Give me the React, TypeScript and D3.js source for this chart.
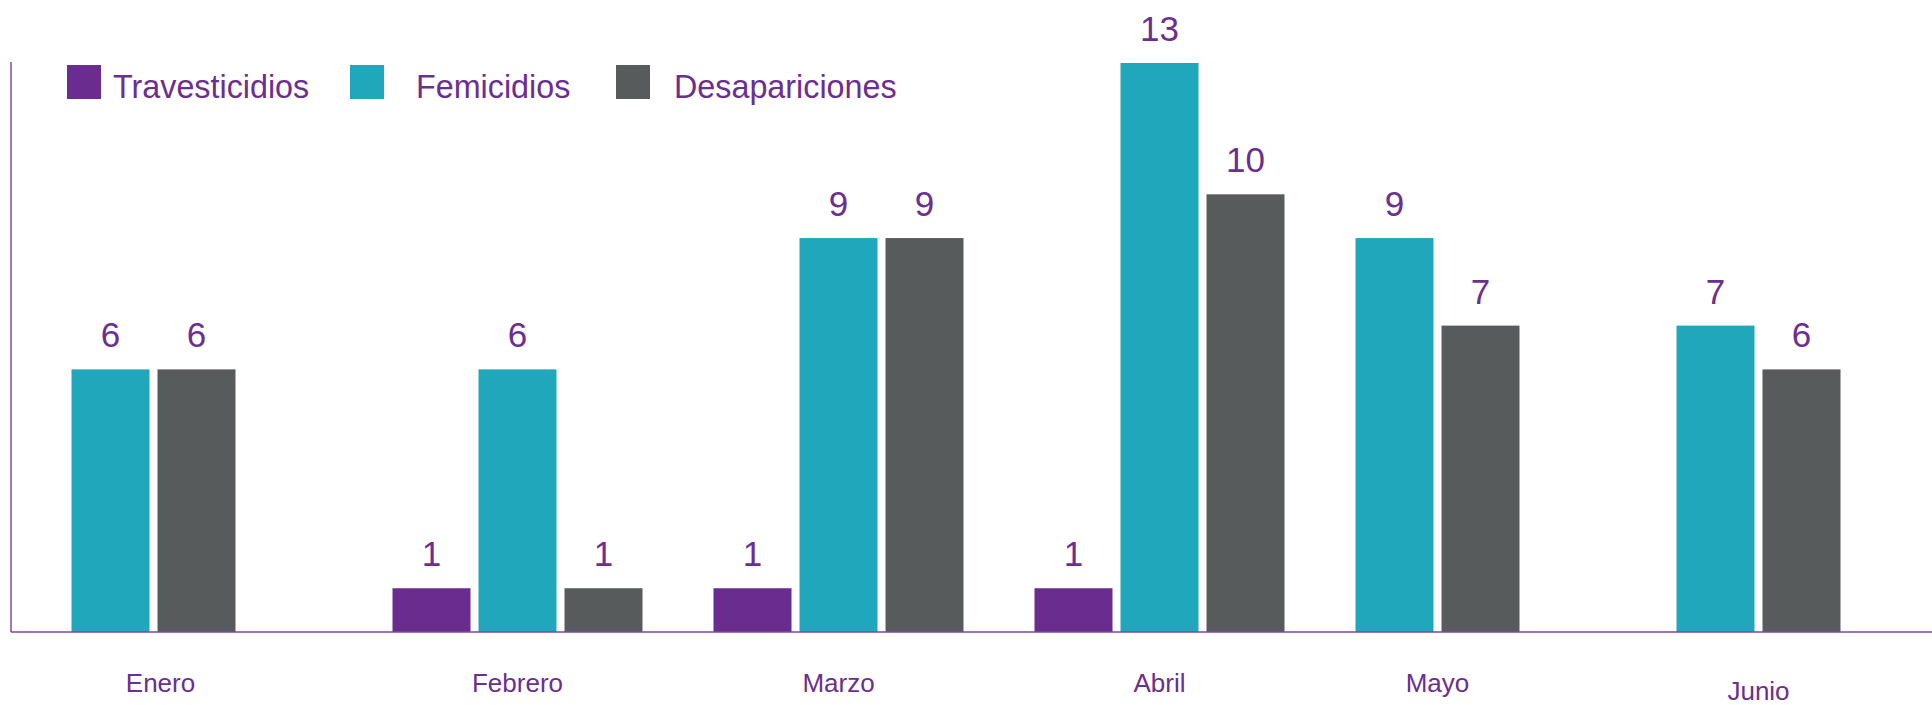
import React, { useEffect, useRef } from "react";
import * as d3 from "d3";

const months = ["Enero", "Febrero", "Marzo", "Abril", "Mayo", "Junio"];
const seriesNames = ["Travesticidios", "Femicidios", "Desapariciones"];
const travesticidios = [0, 1, 1, 1, 0, 0];
const femicidios = [6, 6, 9, 13, 9, 7];
const desapariciones = [6, 1, 9, 10, 7, 6];

const colors = ["#6a2d8f", "#20a7bb", "#575b5c"];
const textColor = "#6b2e91";
const font = "'Liberation Sans', Arial, sans-serif";

const App = () => {
  const svgRef = useRef<SVGSVGElement>(null);

  useEffect(() => {
    const svg = d3.select(svgRef.current);
    svg.selectAll("*").remove();

    const width = 1932;
    const baseY = 632;
    const axisX = 11;

    const values = [travesticidios, femicidios, desapariciones];

    // month bands, each holding three slots
    const x = d3.scaleBand<string>()
      .domain(months)
      .range([36, 36 + 6 * 321])
      .paddingInner(71 / 321)
      .paddingOuter(35.5 / 321);

    const slot = d3.scaleBand<string>()
      .domain(["0", "1", "2"])
      .range([0, x.bandwidth()])
      .paddingInner(8 / 86);

    const y = d3.scaleLinear().domain([0, 13]).range([baseY, 63]);

    // non-zero bars are packed to the left of their month
    const bars: { month: string; s: number; k: number; v: number }[] = [];
    const counts: number[] = [];
    months.forEach((m, i) => {
      let k = 0;
      values.forEach((vals, s) => {
        if (vals[i] > 0) {
          bars.push({ month: m, s, k, v: vals[i] });
          k++;
        }
      });
      counts.push(k);
    });

    const barX = (d: { month: string; k: number }) => (x(d.month) ?? 0) + (slot(String(d.k)) ?? 0);

    svg.append("g")
      .selectAll("rect")
      .data(bars)
      .join("rect")
      .attr("x", barX)
      .attr("y", d => y(d.v))
      .attr("width", slot.bandwidth())
      .attr("height", d => baseY - y(d.v))
      .attr("fill", d => colors[d.s]);

    svg.append("g")
      .selectAll("text")
      .data(bars)
      .join("text")
      .attr("x", d => barX(d) + slot.bandwidth() / 2)
      .attr("y", d => y(d.v) - 22)
      .attr("text-anchor", "middle")
      .attr("font-family", font)
      .attr("font-size", 35)
      .attr("fill", textColor)
      .text(d => d.v);

    // axes
    svg.append("line")
      .attr("x1", axisX).attr("x2", width)
      .attr("y1", baseY).attr("y2", baseY)
      .attr("stroke", "#7d4aa3").attr("stroke-width", 1.5);

    svg.append("line")
      .attr("x1", axisX).attr("x2", axisX)
      .attr("y1", 62).attr("y2", baseY)
      .attr("stroke", "#7d4aa3").attr("stroke-width", 1.5);

    // month labels centred on the visible bars
    svg.append("g")
      .selectAll("text")
      .data(months)
      .join("text")
      .attr("x", (m, i) => {
        const last = slot(String(counts[i] - 1)) ?? 0;
        return (x(m) ?? 0) + (last + slot.bandwidth()) / 2 + (i === 0 ? 7 : 0);
      })
      .attr("y", m => (m === "Junio" ? 700 : 692))
      .attr("text-anchor", "middle")
      .attr("font-family", font)
      .attr("font-size", 26)
      .attr("fill", textColor)
      .text(m => m);

    // legend
    const legendX = [67, 350, 616];
    const legend = svg.append("g")
      .selectAll("g")
      .data(seriesNames)
      .join("g")
      .attr("transform", (d, i) => `translate(${legendX[i]},65)`);

    legend.append("rect")
      .attr("width", 34).attr("height", 34)
      .attr("fill", (d, i) => colors[i]);

    legend.append("text")
      .attr("transform", (d, i) => `translate(${(i === 0 ? 46 : 66) - (i === 2 ? 8 : 0)},33) scale(0.95,1)`)
      .attr("font-family", font)
      .attr("font-size", 34)
      .attr("fill", textColor)
      .text(d => d);
  }, []);

  return (
    <div style={{ position: "absolute", left: 0, top: 0 }}>
      <svg ref={svgRef} width={1932} height={705} style={{ display: "block" }}></svg>
    </div>
  );
};

export default App;
